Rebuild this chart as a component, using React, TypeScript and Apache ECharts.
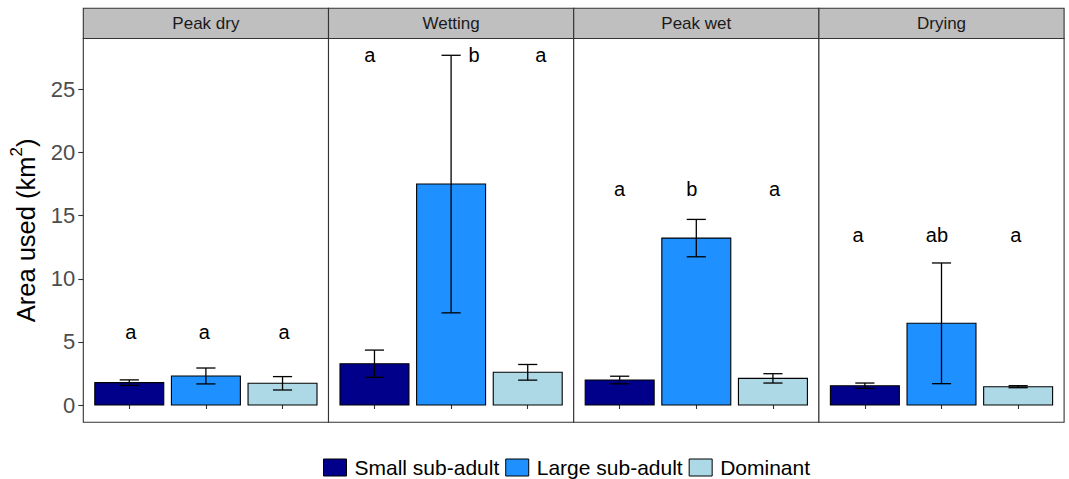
import React, { useEffect, useRef } from "react";
import * as echarts from "echarts";

// Seasons (facets) and animal classes
const seasons = ["Peak dry", "Wetting", "Peak wet", "Drying"];
const groups = ["Small sub-adult", "Large sub-adult", "Dominant"];

// Mean area used (km²) and standard error, one entry per season
const smallMean = [1.77, 3.27, 1.98, 1.53];
const smallSE = [0.22, 1.08, 0.3, 0.21];
const largeMean = [2.3, 17.5, 13.22, 6.47];
const largeSE = [0.63, 10.2, 1.48, 4.78];
const domMean = [1.72, 2.59, 2.11, 1.45];
const domSE = [0.53, 0.62, 0.37, 0.08];

// Significance letters per season, with their x (group index) and y positions
const letters = [
  ["a", "a", "a"],
  ["a", "b", "a"],
  ["a", "b", "a"],
  ["a", "ab", "a"],
];
const letterX = [
  [1.02, 1.98, 3.02],
  [0.94, 2.3, 3.17],
  [1.0, 1.94, 3.02],
  [0.91, 1.94, 2.97],
];
const letterY = [5.8, 27.7, 17.1, 13.5];

// Y axis ticks
const yTicks = [0, 5, 10, 15, 20, 25];

const colors = ["#00008B", "#1E90FF", "#ADD8E6"];
const FONT = "'Liberation Sans', Arial, Helvetica, sans-serif";

export default function App() {
  const ref = useRef<HTMLDivElement>(null);

  useEffect(() => {
    if (!ref.current) return;
    const chart = echarts.init(ref.current, null, { renderer: "svg" });

    const panelLeft = 83.3;
    const panelW = 245.2;
    const gridTop = 38.5;
    const gridH = 383.8;
    const stripTop = 8.3;
    const stripH = 30.2;

    const means = [smallMean, largeMean, domMean];
    const ses = [smallSE, largeSE, domSE];

    const grids: any[] = [];
    const xAxes: any[] = [];
    const yAxes: any[] = [];
    const series: any[] = [];
    const graphics: any[] = [];

    seasons.forEach((season, p) => {
      const left = panelLeft + p * panelW;
      grids.push({
        left,
        top: gridTop,
        width: panelW,
        height: gridH,
        show: true,
        borderColor: "#333333",
        borderWidth: 1.1,
        backgroundColor: "#ffffff",
      });
      xAxes.push({
        type: "value",
        gridIndex: p,
        min: 0.4,
        max: 3.6,
        axisLine: { show: false },
        axisLabel: { show: false },
        splitLine: { show: false },
        axisTick: {
          show: true,
          customValues: [1, 2, 3],
          length: 4,
          lineStyle: { color: "#333333", width: 1.1 },
        },
      });
      yAxes.push({
        type: "value",
        gridIndex: p,
        min: -1.37,
        max: 29.03,
        axisLine: { show: false },
        splitLine: { show: false },
        axisTick: {
          show: p === 0,
          customValues: yTicks,
          length: 5,
          lineStyle: { color: "#333333", width: 1.1 },
        },
        axisLabel: {
          show: p === 0,
          customValues: yTicks,
          color: "#4d4d4d",
          fontSize: 22,
          fontFamily: FONT,
          margin: 8,
        },
        name: p === 0 ? "{a|Area used (km}{s|2}{a|)}" : "",
        nameLocation: "middle",
        nameGap: 40,
        nameRotate: 90,
        nameTextStyle: {
          rich: {
            a: { fontSize: 25.5, fontFamily: FONT, color: "#000000" },
            s: {
              fontSize: 17,
              fontFamily: FONT,
              color: "#000000",
              verticalAlign: "top",
              padding: [0, 0, 18, 0],
            },
          },
        },
      });

      // Bars with error bars
      groups.forEach((g, k) => {
        series.push({
          type: "custom",
          name: g,
          xAxisIndex: p,
          yAxisIndex: p,
          itemStyle: { color: colors[k] },
          data: [[k + 1, means[k][p], ses[k][p]]],
          renderItem: (params: any, api: any) => {
            const x = api.value(0);
            const m = api.value(1);
            const se = api.value(2);
            const tl = api.coord([x - 0.45, m]);
            const br = api.coord([x + 0.45, 0]);
            const top = api.coord([x, m + se]);
            const bot = api.coord([x, m - se]);
            const capL = api.coord([x - 0.125, 0])[0];
            const capR = api.coord([x + 0.125, 0])[0];
            const lineStyle = { stroke: "#000000", lineWidth: 1.3 };
            return {
              type: "group",
              children: [
                {
                  type: "rect",
                  shape: {
                    x: tl[0],
                    y: tl[1],
                    width: br[0] - tl[0],
                    height: br[1] - tl[1],
                  },
                  style: { fill: colors[k], stroke: "#000000", lineWidth: 1.1 },
                },
                {
                  type: "line",
                  shape: { x1: top[0], y1: top[1], x2: bot[0], y2: bot[1] },
                  style: lineStyle,
                },
                {
                  type: "line",
                  shape: { x1: capL, y1: top[1], x2: capR, y2: top[1] },
                  style: lineStyle,
                },
                {
                  type: "line",
                  shape: { x1: capL, y1: bot[1], x2: capR, y2: bot[1] },
                  style: lineStyle,
                },
              ],
            };
          },
        });
      });

      // Significance letters
      series.push({
        type: "custom",
        xAxisIndex: p,
        yAxisIndex: p,
        silent: true,
        data: letters[p].map((t, k) => [letterX[p][k], letterY[p], t]),
        renderItem: (params: any, api: any) => {
          const idx = params.dataIndex;
          const pt = api.coord([api.value(0), api.value(1)]);
          return {
            type: "text",
            x: pt[0],
            y: pt[1],
            style: {
              text: letters[p][idx],
              fill: "#000000",
              fontSize: 20,
              fontFamily: FONT,
              align: "center",
              verticalAlign: "middle",
            },
          };
        },
      });

      // Facet strip
      graphics.push({
        type: "rect",
        shape: { x: left, y: stripTop, width: panelW, height: stripH },
        style: { fill: "#bfbfbf", stroke: "#333333", lineWidth: 1.1 },
      });
      graphics.push({
        type: "text",
        x: left + panelW / 2,
        y: stripTop + stripH / 2,
        style: {
          text: season,
          fill: "#1a1a1a",
          fontSize: 17,
          fontFamily: FONT,
          align: "center",
          verticalAlign: "middle",
        },
      });
    });

    chart.setOption({
      animation: false,
      backgroundColor: "#ffffff",
      grid: grids,
      xAxis: xAxes,
      yAxis: yAxes,
      series,
      graphic: graphics,
      legend: {
        left: 318,
        top: 452,
        icon: "rect",
        itemWidth: 23,
        itemHeight: 17,
        itemGap: 6,
        textStyle: {
          fontSize: 21,
          fontFamily: FONT,
          color: "#000000",
          padding: [0, 0, 0, 3],
        },
        data: groups.map((g, k) => ({
          name: g,
          itemStyle: { color: colors[k], borderColor: "#000000", borderWidth: 1 },
        })),
      },
    });

    return () => chart.dispose();
  }, []);

  return (
    <div
      ref={ref}
      style={{ position: "fixed", left: 0, top: 0, width: 1069, height: 479 }}
    />
  );
}
